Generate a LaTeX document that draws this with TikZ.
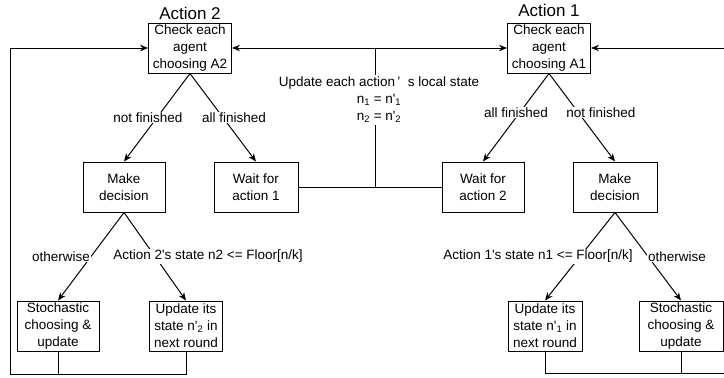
\documentclass[tikz,border=0pt]{standalone}
\usepackage{fontspec}
\setmainfont{Liberation Sans}
\usepackage{tikz}
\usetikzlibrary{arrows.meta}

\begin{document}
\begin{tikzpicture}[x=1pt,y=-1pt,>={Stealth[length=8pt,width=6.5pt]},
	line width=1pt,font=\fontsize{13.5}{17}\selectfont]
	
	\tikzstyle{box}=[draw,align=center,inner sep=1pt,minimum height=50pt]
	\tikzstyle{lbl}=[fill=white,inner sep=1pt]
	\tikzstyle{title}=[font=\fontsize{17}{20}\selectfont]
	
	\useasboundingbox (0,0) rectangle (724,378);
	
	% action 2 side
	\node (chk2)  [box,minimum width=83pt] at (190,48)  {Check each\\agent\\choosing A2};
	\node (ttl2)  [title] at (190,13) {Action 2};
	\node (dec2)  [box,minimum width=82pt] at (124,187) {Make\\decision};
	\node (wait1) [box,minimum width=84pt] at (256,187) {Wait for\\action 1};
	\node (sto2)  [box,minimum width=82pt] at (58,326)  {Stochastic\\choosing \&\\update};
	\node (upd2)  [box,minimum width=73pt] at (186,326) {Update its\\state n\textquotesingle\textsubscript{2} in\\next round};
	
	% action 1 side
	\node (chk1)  [box,minimum width=83pt] at (549,48)  {Check each\\agent\\choosing A1};
	\node (ttl1)  [title] at (549,10) {Action 1};
	\node (wait2) [box,minimum width=82pt] at (483,187) {Wait for\\action 2};
	\node (dec1)  [box,minimum width=84pt] at (615,187) {Make\\decision};
	\node (upd1)  [box,minimum width=74pt] at (545,326) {Update its\\state n\textquotesingle\textsubscript{1} in\\next round};
	\node (sto1)  [box,minimum width=84pt] at (681,326) {Stochastic\\choosing \&\\update};
	
	\coordinate (lb)  at (10,374);
	\coordinate (rb)  at (728,373);
	\coordinate (mid) at (375,187);
	
	\draw[->] (chk2.south) -- node[lbl,xshift=-9pt] {not finished} (dec2.north);
	\draw[->] (chk2.south) -- node[lbl,xshift=11pt] {all finished} (wait1.north);
	\draw[->] (dec2.south) -- node[lbl,xshift=-30pt] {otherwise} (sto2.north);
	\draw[->] (dec2.south) -- node[lbl,xshift=53pt] {Action 2\textquotesingle s state n2 <= Floor[n/k]} (upd2.north);
	
	\draw[->] (chk1.south) -- node[lbl,yshift=5pt] {all finished} (wait2.north);
	\draw[->] (chk1.south) -- node[lbl,xshift=19pt,yshift=5pt] {not finished} (dec1.north);
	\draw[->] (dec1.south) -- node[lbl,xshift=-42pt] {Action 1\textquotesingle s state n1 <= Floor[n/k]} (upd1.north);
	\draw[->] (dec1.south) -- node[lbl,xshift=29pt] {otherwise} (sto1.north);
	
	% feedback loops
	\draw (sto2.south) -- (sto2.south |- lb);
	\draw[->] (upd2.south) |- (lb) |- (chk2.west);
	\draw (sto1.south) -- (sto1.south |- rb);
	\draw[->] (upd1.south) |- (rb) |- (chk1.east);
	
	% shared state update
	\draw[<->] (chk2.east) -- (chk1.west);
	\draw (wait1.east) -- (wait2.west);
	\draw (mid) -- (mid |- chk2.east);
	\node (sync) [fill=white,inner sep=2pt,align=center] at (379,100)
	{Update each action\,’\ \ s local state\\n\textsubscript{1} = n\textquotesingle\textsubscript{1}\\n\textsubscript{2} = n\textquotesingle\textsubscript{2}};
\end{tikzpicture}
\end{document}
